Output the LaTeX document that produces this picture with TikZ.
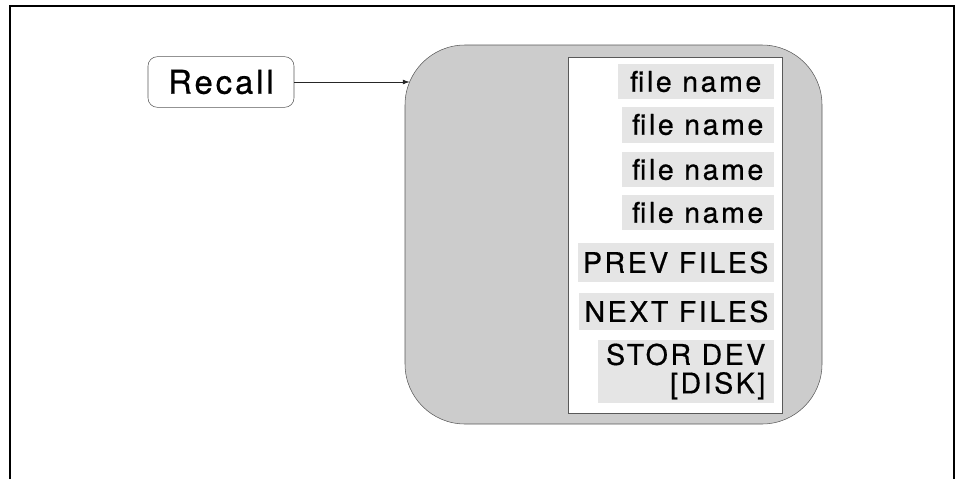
\documentclass[tikz,border=0pt]{standalone}
\usepackage{fontspec}
\setmainfont{TeX Gyre Heros}
\newfontfamily\spacedfont[LetterSpace=9,FakeBold=0.6]{TeX Gyre Heros}
\usetikzlibrary{arrows.meta}

\begin{document}
\begin{tikzpicture}[x=0.75pt,y=-0.75pt]
  \tikzstyle{recallStyle}=[rounded corners=7pt,draw=black!65,fill=white,minimum width=109.5pt,minimum height=38pt,inner sep=0pt,font=\spacedfont\fontsize{24.6}{26}\selectfont]
  \tikzstyle{menuStyle}=[rounded corners=45pt,draw=black!65,fill=gray!40,minimum width=312.75pt,minimum height=284.25pt]
  \tikzstyle{listStyle}=[draw=black!65,line width=0.7pt,fill=white,minimum width=160.5pt,minimum height=267pt]
  \tikzstyle{itemStyle}=[anchor=east,fill=gray!20,inner xsep=4pt,inner ysep=0pt,align=right,font=\spacedfont\fontsize{21.4}{21.4}\selectfont]

  \useasboundingbox (0,0) rectangle (959,479);
  % frame, open at the bottom
  \draw[line width=1.5pt] (10,479) -- (10,6) -- (954,6) -- (954,479);

  \begin{scope}
    \node[recallStyle](recall) at (221,82) {Recall};
    \node[menuStyle](menu) at (613.5,234.5) {};
    \node[listStyle](list) at (675,235) {};

    \node[itemStyle,minimum height=26pt,minimum width=117pt](file1) at (774,81.5) {file name};
    \node[itemStyle,minimum height=27pt,minimum width=114pt](file2) at (774,124.5) {file name};
    \node[itemStyle,minimum height=26pt,minimum width=114pt](file3) at (774,169.5) {file name};
    \node[itemStyle,minimum height=26pt,minimum width=114pt](file4) at (774,212.5) {file name};
    \node[itemStyle,minimum height=29pt](prev) at (774,262.5) {PREV FILES};
    \node[itemStyle,minimum height=28pt](next) at (774,311.5) {NEXT FILES};
    \node[itemStyle,minimum height=47pt,minimum width=132pt](stor) at (774,371.5) {STOR DEV\\{[DISK]}};

    \coordinate (hit) at (409.6,82);
    \draw[-{Latex[length=5pt,width=3.5pt]},black!85] (recall) -- (hit);
  \end{scope}
\end{tikzpicture}
\end{document}
